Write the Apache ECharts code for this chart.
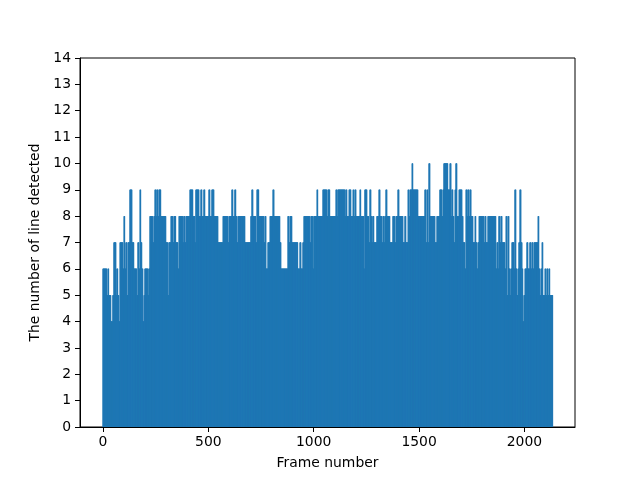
<!DOCTYPE html>
<html>
<head>
<meta charset="utf-8">
<script src="https://cdn.jsdelivr.net/npm/echarts@6/dist/echarts.min.js"></script>
<style>html,body{margin:0;padding:0;background:#fff}#c{width:640px;height:480px}</style>
</head>
<body>
<div id="c"></div>
<script>
// Values: a run starts at a frame and holds a line count until the next run.
const frameCount = 2135;
const runStarts = [0,19,24,28,38,47,52,62,66,71,76,81,95,100,104,109,114,119,128,138,147,161,166,171,176,180,185,190,195,199,214,218,223,237,242,247,252,256,261,266,275,299,308,313,323,332,337,346,356,361,380,384,389,394,413,427,437,441,456,465,470,479,484,503,508,517,527,546,570,593,598,612,617,626,631,636,641,674,702,707,712,726,731,740,764,769,774,783,793,807,812,840,845,878,883,888,897,925,935,940,949,954,982,987,997,1001,1016,1020,1044,1063,1068,1077,1106,1111,1115,1149,1153,1158,1168,1177,1187,1191,1196,1201,1220,1224,1239,1243,1253,1262,1267,1272,1277,1281,1286,1300,1310,1315,1324,1329,1334,1338,1343,1348,1362,1376,1386,1391,1400,1405,1424,1433,1438,1448,1452,1457,1467,1471,1495,1528,1533,1538,1542,1547,1552,1576,1585,1599,1609,1614,1618,1637,1647,1652,1656,1661,1666,1671,1675,1680,1690,1704,1709,1718,1723,1728,1732,1737,1742,1747,1756,1766,1770,1775,1780,1785,1808,1813,1818,1827,1865,1870,1875,1879,1884,1889,1894,1908,1913,1917,1922,1927,1932,1936,1941,1951,1955,1960,1965,1970,1974,1979,1984,1989,1993,1998,2003,2012,2017,2026,2031,2036,2041,2046,2065,2069,2074,2079,2084,2088,2098,2102,2107,2112,2117,2121];
const runValues = [6,5,6,5,4,5,7,5,6,5,4,7,6,8,6,7,5,7,9,7,6,5,7,6,9,7,6,4,5,6,5,6,8,7,8,9,8,9,8,9,8,7,5,7,8,7,8,7,6,8,7,8,7,8,9,8,7,9,8,9,8,9,8,9,8,9,8,7,8,7,8,9,8,9,8,7,8,7,8,9,8,7,9,8,7,8,6,7,8,9,8,7,6,8,7,8,7,6,7,6,7,8,7,8,6,8,9,8,9,8,9,8,9,8,9,8,9,8,9,8,9,8,9,8,9,8,6,9,8,7,9,8,7,8,7,8,9,8,7,8,7,8,9,8,7,8,7,8,9,8,7,8,7,9,8,9,10,9,8,9,7,9,7,10,8,7,8,9,8,9,10,9,10,8,9,8,7,9,10,8,9,8,7,6,9,8,9,8,9,8,7,8,7,6,7,8,7,8,7,8,6,7,6,8,7,8,7,6,8,5,8,6,5,6,7,6,9,6,5,6,7,9,7,6,4,5,6,7,6,7,6,7,6,7,8,6,5,6,7,5,6,5,6,5,6,5];
const xTicks = [0, 500, 1000, 1500, 2000];
const xTitle = 'Frame number';
const yTitle = 'The number of line detected';

const lines = [];
let k = 0;
for (let f = 0; f < frameCount; f++) {
  while (k + 1 < runStarts.length && runStarts[k + 1] <= f) k++;
  lines.push([f, runValues[k]]);
}

const font = 'DejaVu Sans';
const chart = echarts.init(document.getElementById('c'), null, {renderer: 'canvas'});
chart.setOption({
  animation: false,
  backgroundColor: '#fff',
  grid: {left: 80, right: 65, top: 58, bottom: 53, show: true, borderColor: '#000', borderWidth: 1, backgroundColor: 'transparent'},
  xAxis: {
    type: 'value', min: -109, max: 2240,
    name: xTitle, nameLocation: 'middle', nameGap: 29,
    nameTextStyle: {fontFamily: font, fontSize: 13.9, color: '#000'},
    axisLine: {show: true, onZero: false, lineStyle: {color: '#000', width: 1}},
    axisTick: {show: true, length: 5, lineStyle: {color: '#000'}, customValues: xTicks},
    axisLabel: {fontFamily: font, fontSize: 13.9, color: '#000', margin: 8, customValues: xTicks, formatter: v => String(v)},
    splitLine: {show: false}
  },
  yAxis: {
    type: 'value', min: 0, max: 14, interval: 1,
    name: yTitle, nameLocation: 'middle', nameGap: 33, nameRotate: 90,
    nameTextStyle: {fontFamily: font, fontSize: 13.9, color: '#000'},
    axisLine: {show: true, onZero: false, lineStyle: {color: '#000', width: 1}},
    axisTick: {show: true, length: 5, lineStyle: {color: '#000'}},
    axisLabel: {fontFamily: font, fontSize: 13.9, color: '#000', margin: 9},
    splitLine: {show: false}
  },
  series: [{
    type: 'bar',
    data: lines,
    barWidth: 1,
    itemStyle: {color: '#1f77b4'},
    silent: true
  }]
});
</script>
</body>
</html>
